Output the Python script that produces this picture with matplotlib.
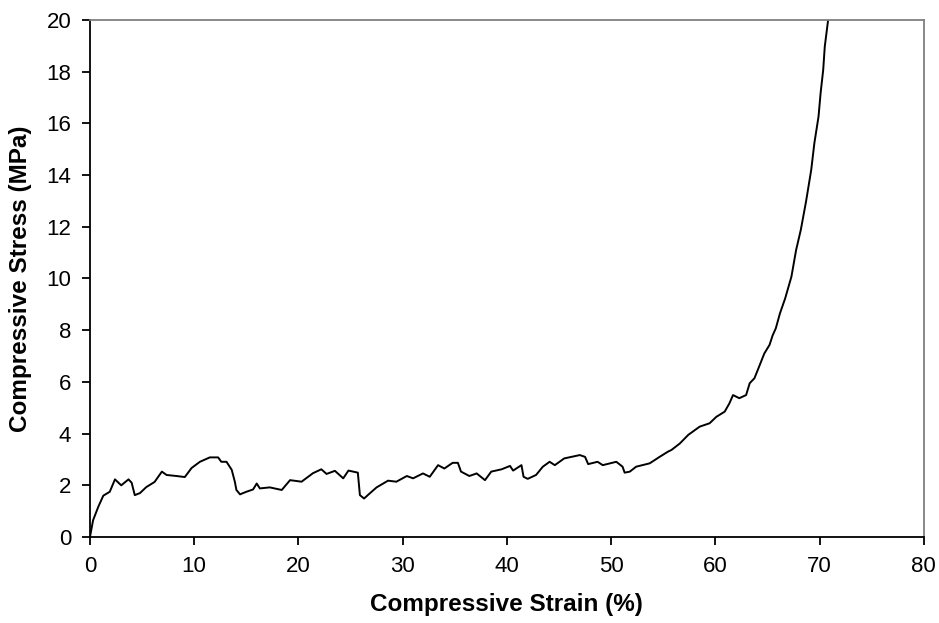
import matplotlib
matplotlib.use('Agg')
import matplotlib.pyplot as plt

strain = [0.0, 0.3, 0.8, 1.28, 1.9, 2.4, 3.0, 3.7, 4.0, 4.3, 4.8, 5.4, 6.2, 6.9,
          7.35, 8.3, 9.1, 9.75, 10.55, 11.5, 12.3, 12.6, 13.1, 13.6, 13.9, 14.05,
          14.4, 15.0, 15.65, 16.0, 16.3, 17.25, 18.4, 19.2, 20.3, 21.4, 22.2, 22.7,
          23.5, 24.3, 24.8, 25.7, 25.9, 26.3, 26.85, 27.5, 28.6, 29.4, 30.4, 31.0,
          31.95, 32.6, 33.4, 34.0, 34.8, 35.3, 35.6, 36.4, 37.1, 37.9, 38.5, 39.5,
          40.3, 40.6, 41.4, 41.6, 42.0, 42.8, 43.45, 44.1, 44.6, 45.5, 47.0, 47.5,
          47.8, 48.7, 49.2, 50.5, 51.1, 51.3, 51.8, 52.4, 53.7, 54.65, 55.45, 55.8,
          56.6, 57.4, 58.5, 59.45, 60.1, 60.9, 61.35, 61.7, 62.3, 62.95, 63.3, 63.75,
          64.2, 64.7, 65.2, 65.5, 65.8, 66.2, 66.7, 67.3, 67.75, 68.2, 68.7, 69.2,
          69.5, 69.9, 70.1, 70.35, 70.5, 70.8, 70.9]
stress = [0.0, 0.65, 1.17, 1.6, 1.75, 2.23, 2.0, 2.23, 2.1, 1.62, 1.7, 1.93, 2.13, 2.53,
          2.4, 2.36, 2.32, 2.67, 2.91, 3.08, 3.08, 2.91, 2.91, 2.6, 2.14, 1.82,
          1.65, 1.75, 1.84, 2.07, 1.88, 1.92, 1.82, 2.2, 2.14, 2.47, 2.62, 2.44,
          2.56, 2.27, 2.57, 2.49, 1.62, 1.49, 1.69, 1.92, 2.18, 2.14, 2.36, 2.27,
          2.46, 2.33, 2.78, 2.65, 2.87, 2.87, 2.53, 2.36, 2.46, 2.2, 2.53, 2.62,
          2.75, 2.57, 2.78, 2.33, 2.25, 2.4, 2.72, 2.91, 2.78, 3.04, 3.17, 3.1,
          2.82, 2.91, 2.78, 2.91, 2.72, 2.49, 2.53, 2.72, 2.85, 3.1, 3.3, 3.37,
          3.62, 3.95, 4.27, 4.4, 4.65, 4.85, 5.17, 5.49, 5.37, 5.49, 5.95, 6.14,
          6.59, 7.1, 7.43, 7.8, 8.07, 8.65, 9.23, 10.07, 11.1, 11.88, 12.97, 14.2,
          15.23, 16.26, 17.17, 18.07, 18.97, 19.93, 20.3]

x_ticks = list(range(0, 81, 10))
y_ticks = list(range(0, 21, 2))

plt.rcParams['font.family'] = ['Liberation Sans', 'DejaVu Sans']

fig = plt.figure(figsize=(9.39, 6.23), dpi=100)
ax = fig.add_axes([0.0958, 0.138, 0.888, 0.830])

ax.plot(strain, stress, color='black', linewidth=1.4)

ax.set_xlim(0, 80)
ax.set_ylim(0, 20)
ax.set_xticks(x_ticks)
ax.set_yticks(y_ticks)
ax.tick_params(axis='both', direction='out', length=5.5, width=1.3,
               labelsize=16, pad=8)

for cote in ['left', 'bottom']:
    ax.spines[cote].set_color('black')
    ax.spines[cote].set_linewidth(1.3)
for cote in ['top', 'right']:
    ax.spines[cote].set_color('#808080')
    ax.spines[cote].set_linewidth(1.3)

ax.set_xlabel('Compressive Strain (%)', fontsize=17.5, fontweight='bold', labelpad=12)
ax.set_ylabel('Compressive Stress (MPa)', fontsize=17.5, fontweight='bold', labelpad=10)

fig.savefig('out.png', dpi=100)
plt.close('all')
